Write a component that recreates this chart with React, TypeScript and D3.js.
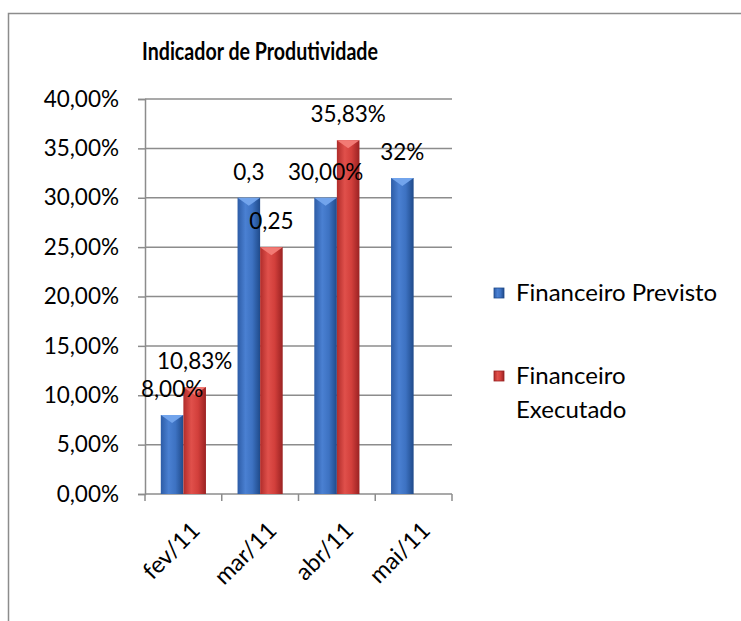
import * as d3 from "d3";
import {useRef, useEffect} from "react";

const categories = ["fev/11", "mar/11", "abr/11", "mai/11"];
const previsto = [0.08, 0.30, 0.30, 0.32];
const executado = [0.1083, 0.25, 0.3583, null];
const previstoLabels = ["8,00%", "0,3", "30,00%", "32%"];
const executadoLabels = ["10,83%", "0,25", "35,83%", ""];
const yTicks = [0, 0.05, 0.10, 0.15, 0.20, 0.25, 0.30, 0.35, 0.40];

const FONT = "Lato, 'Open Sans', sans-serif";

const App = () => {
    const ref = useRef<SVGSVGElement>(null);

    useEffect(() => {
        const svg = d3.select(ref.current);
        svg.selectAll("*").remove();

        const width = 741, height = 621;
        const left = 145, right = 452, top = 99, bottom = 494;

        const x = d3.scaleBand(categories, [left, right]);
        const xs = d3.scaleBand(["p", "e"], [0, x.bandwidth()]).paddingOuter(0.7);
        const y = d3.scaleLinear([0, 0.4], [bottom, top]);

        // gradients for the bevelled bars
        const defs = svg.append("defs");
        const grad = (id, stops) => {
            const g = defs.append("linearGradient").attr("id", id)
                .attr("x1", "0%").attr("x2", "100%").attr("y1", "0%").attr("y2", "0%");
            stops.forEach(([o, c]) => g.append("stop").attr("offset", o).attr("stop-color", c));
        };
        grad("gBlue", [["0%", "#2d5ca6"], ["35%", "#4a80d2"], ["65%", "#3d72c2"], ["100%", "#1f4a8a"]]);
        grad("gRed", [["0%", "#b02c2a"], ["35%", "#e0504b"], ["65%", "#d23f3b"], ["100%", "#9a2222"]]);
        const colors = {p: {fill: "url(#gBlue)", top: "#72a4ec", edge: "#1f4a8a"},
                        e: {fill: "url(#gRed)", top: "#f27a74", edge: "#9a2222"}};

        // frame
        svg.append("rect")
            .attr("x", 8.5).attr("y", 13.5)
            .attr("width", width + 20).attr("height", height + 20)
            .attr("fill", "white").attr("stroke", "#8c8c8c").attr("stroke-width", 1.5);

        // title (Calibri bold is narrow, so squeeze to its width)
        svg.append("text")
            .attr("x", 142).attr("y", 60)
            .attr("textLength", 236).attr("lengthAdjust", "spacingAndGlyphs")
            .attr("font-family", FONT).attr("font-weight", "bold").attr("font-size", 24)
            .text("Indicador de Produtividade");

        // grid
        svg.append("g").selectAll("line")
            .data(yTicks.slice(1))
            .join("line")
            .attr("x1", left).attr("x2", right)
            .attr("y1", d => y(d)).attr("y2", d => y(d))
            .attr("stroke", "#8c8c8c").attr("stroke-width", 1.5);

        const yAxis = d3.axisLeft(y)
            .tickValues(yTicks)
            .tickSize(7)
            .tickPadding(19)
            .tickFormat(d => d3.format(".2f")(d * 100).replace(".", ",") + "%");
        svg.append("g")
            .attr("transform", `translate(${left},0)`)
            .call(yAxis)
            .call(g => g.select(".domain").attr("stroke", "#8c8c8c").attr("stroke-width", 1.5))
            .call(g => g.selectAll(".tick line").attr("stroke", "#8c8c8c").attr("stroke-width", 1.5))
            .call(g => g.selectAll(".tick text")
                .attr("font-family", FONT).attr("font-size", 22.5).attr("fill", "#000"));

        // x axis
        const xAxis = svg.append("g");
        xAxis.append("line")
            .attr("x1", left).attr("x2", right)
            .attr("y1", bottom).attr("y2", bottom)
            .attr("stroke", "#8c8c8c").attr("stroke-width", 1.5);
        xAxis.selectAll("line.tk")
            .data([...categories.map(c => x(c)), right])
            .join("line")
            .attr("x1", d => d).attr("x2", d => d)
            .attr("y1", bottom).attr("y2", bottom + 7)
            .attr("stroke", "#8c8c8c").attr("stroke-width", 1.5);
        xAxis.selectAll("text")
            .data(categories)
            .join("text")
            .attr("transform", d => `translate(${x(d) + x.bandwidth() / 2 + 6},${bottom + 26}) rotate(-45)`)
            .attr("text-anchor", "end")
            .attr("dy", "0.72em")
            .attr("font-family", FONT).attr("font-size", 23.5)
            .text(d => d);

        // bars
        const rows = categories.flatMap((c, i) => [
            {c, s: "p", v: previsto[i], label: previstoLabels[i]},
            {c, s: "e", v: executado[i], label: executadoLabels[i]},
        ]).filter(d => d.v != null);

        const bw = xs.bandwidth();
        const bars = svg.append("g");
        bars.selectAll("rect")
            .data(rows)
            .join("rect")
            .attr("x", d => x(d.c) + xs(d.s))
            .attr("y", d => y(d.v))
            .attr("width", bw)
            .attr("height", d => bottom - y(d.v))
            .attr("fill", d => colors[d.s].fill);
        bars.selectAll("polygon")
            .data(rows)
            .join("polygon")
            .attr("points", d => {
                const x0 = x(d.c) + xs(d.s), t = y(d.v);
                return [[x0, t], [x0 + bw, t], [x0 + bw / 2, t + 8]].map(p => p.join(",")).join(" ");
            })
            .attr("fill", d => colors[d.s].top);

        // value labels
        svg.append("g")
            .selectAll("text")
            .data(rows)
            .join("text")
            .attr("x", d => x(d.c) + xs(d.s) + bw / 2)
            .attr("y", d => y(d.v) - 18)
            .attr("text-anchor", "middle")
            .attr("font-family", FONT).attr("font-size", 22.5)
            .text(d => d.label);

        // legend
        const legend = svg.append("g");
        const items = [
            {s: "p", lines: ["Financeiro Previsto"], y: 293},
            {s: "e", lines: ["Financeiro", "Executado"], y: 376},
        ];
        items.forEach(it => {
            legend.append("rect")
                .attr("x", 494).attr("y", it.y - 5)
                .attr("width", 10).attr("height", 10)
                .attr("fill", colors[it.s].fill)
                .attr("stroke", colors[it.s].edge).attr("stroke-width", 0.8);
            it.lines.forEach((t, i) => legend.append("text")
                .attr("x", 516).attr("y", it.y + 8 + i * 34)
                .attr("font-family", FONT).attr("font-size", 24)
                .text(t));
        });
    }, []);

    return (
        <svg ref={ref} width={741} height={621}
             style={{position: "fixed", left: 0, top: 0, background: "white"}}/>
    );
};

export default App;
